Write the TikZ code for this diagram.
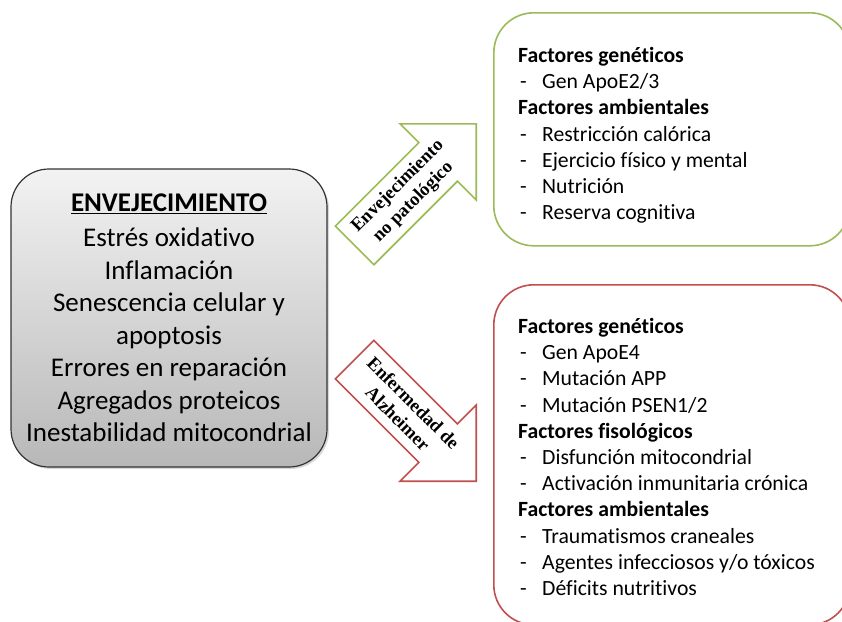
\documentclass[tikz,border=0pt]{standalone}
\usepackage{fontspec}
\setmainfont{Carlito}[Ligatures=NoCommon]
\newfontfamily\serifbold{Liberation Serif}
\usetikzlibrary{shapes}
\usetikzlibrary{shadows}
\definecolor{okgreen}{RGB}{155,187,89}
\definecolor{adred}{RGB}{192,80,77}
\newcommand{\itm}[1]{\hspace*{2pt}\makebox[22pt][l]{-}#1}
\tikzset{
	agebox/.style = {
		rectangle,
		draw=black!80,
		line width=1.2pt,
		rounded corners=38pt,
		top color=black!5,
		bottom color=black!28,
		drop shadow={opacity=0.3, shadow xshift=2pt, shadow yshift=-2pt},
		align=center,
		font=\fontsize{27}{32.5}\selectfont,
		minimum width=316pt,
		minimum height=298pt
	},
	factbox/.style = {
		rectangle,
		line width=1.6pt,
		rounded corners=40pt,
		fill=white,
		anchor=north west,
		minimum width=356pt
	},
	listtext/.style = {
		align=left,
		inner sep=0pt,
		anchor=north west,
		font=\fontsize{21.7}{26.2}\selectfont
	},
	patharrow/.style = {
		single arrow,
		single arrow tip angle=90,
		single arrow head extend=26.5pt,
		inner xsep=0pt,
		inner ysep=26.5pt,
		minimum height=172pt,
		line width=1.6pt,
		fill=white,
		anchor=tip
	},
	arrowtext/.style = {
		align=center,
		inner sep=0pt,
		font=\serifbold\bfseries\fontsize{18.5}{22}\selectfont
	}
}
\begin{document}
\begin{tikzpicture}[x=1pt, y=-1pt]
\useasboundingbox (0,0) rectangle (842,621);
% aging box
\node [agebox] (age) at (169,318) {\textbf{\underline{ENVEJECIMIENTO}}\\[2.5pt]
	Estrés oxidativo\\ Inflamación\\ Senescencia celular y\\ apoptosis\\
	Errores en reparación\\ Agregados proteicos\\ Inestabilidad mitocondrial};
% the two factor boxes
\node [factbox, draw=okgreen, minimum height=233pt] (okbox) at (493,12) {};
\node [factbox, draw=adred, minimum height=340pt] (adbox) at (493,284) {};
\node [listtext] (oklist) at (518,47) {\textbf{Factores genéticos}\\
	\itm{Gen ApoE2/3}\\
	\textbf{Factores ambientales}\\
	\itm{Restricción calórica}\\
	\itm{Ejercicio físico y mental}\\
	\itm{Nutrición}\\
	\itm{Reserva cognitiva}};
\node [listtext] (adlist) at (518,318) {\textbf{Factores genéticos}\\
	\itm{Gen ApoE4}\\
	\itm{Mutación APP}\\
	\itm{Mutación PSEN1/2}\\
	\textbf{Factores fisológicos}\\
	\itm{Disfunción mitocondrial}\\
	\itm{Activación inmunitaria crónica}\\
	\textbf{Factores ambientales}\\
	\itm{Traumatismos craneales}\\
	\itm{Agentes infecciosos y/o tóxicos}\\
	\itm{Déficits nutritivos}};
% block arrows
\node [patharrow, draw=okgreen, rotate=45] (okarrow) at (477,123) {};
\node [patharrow, draw=adred, rotate=-45] (adarrow) at (477,482) {};
\path (okarrow.tail) -- (okarrow.tip) node [arrowtext, pos=.42, sloped] (oklabel) {Envejecimiento\\no patológico};
\path (adarrow.tail) -- (adarrow.tip) node [arrowtext, pos=.42, sloped] (adlabel) {Enfermedad de\\Alzheimer};
\end{tikzpicture}
\end{document}
